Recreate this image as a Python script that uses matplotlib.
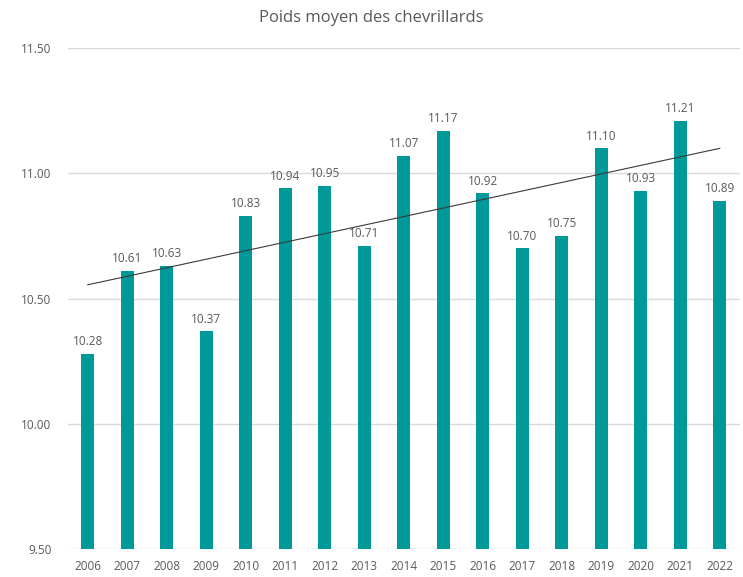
import matplotlib
matplotlib.use("Agg")
import matplotlib.pyplot as plt
import numpy as np

years = [str(y) for y in range(2006, 2023)]
weights = [10.28, 10.61, 10.63, 10.37, 10.83, 10.94, 10.95, 10.71, 11.07,
           11.17, 10.92, 10.70, 10.75, 11.10, 10.93, 11.21, 10.89]
yticks = [9.5, 10.0, 10.5, 11.0, 11.5]

TEAL = "#00999A"
GREY = "#595959"
plt.rcParams["font.family"] = ["Open Sans", "DejaVu Sans"]

fig = plt.figure(figsize=(7.43, 5.77), dpi=100)
ax = fig.add_axes([68 / 743, 28 / 577, 671.5 / 743, 501 / 577])

x = np.arange(len(years))
ax.bar(x, weights, width=0.33, color=TEAL, zorder=3)
for xi, v in zip(x, weights):
    ax.annotate(f"{v:.2f}", (xi, v), xytext=(0, 4), textcoords="offset points",
                ha="center", va="bottom", fontsize=8.5, color=GREY)

# linear trend
k, b = np.polyfit(x, weights, 1)
ax.plot(x, k * x + b, color="#3a3a3a", lw=0.8, zorder=4)

ax.set_xlim(-0.5, len(years) - 0.5)
ax.set_ylim(9.5, 11.5)
ax.set_yticks(yticks)
ax.set_yticklabels([f"{t:.2f}" for t in yticks])
ax.set_xticks(x)
ax.set_xticklabels(years)
ax.tick_params(axis="both", length=0, labelsize=8.5, labelcolor=GREY)
ax.tick_params(axis="y", pad=12)
ax.tick_params(axis="x", pad=8)
ax.grid(axis="y", color="#d9d9d9", lw=1, zorder=0)
for s in ax.spines.values():
    s.set_visible(False)

fig.text(0.5, 1 - 18 / 577, "Poids moyen des chevrillards", ha="center", va="center",
         fontsize=12, color=GREY)

fig.savefig("out.png", dpi=100)
